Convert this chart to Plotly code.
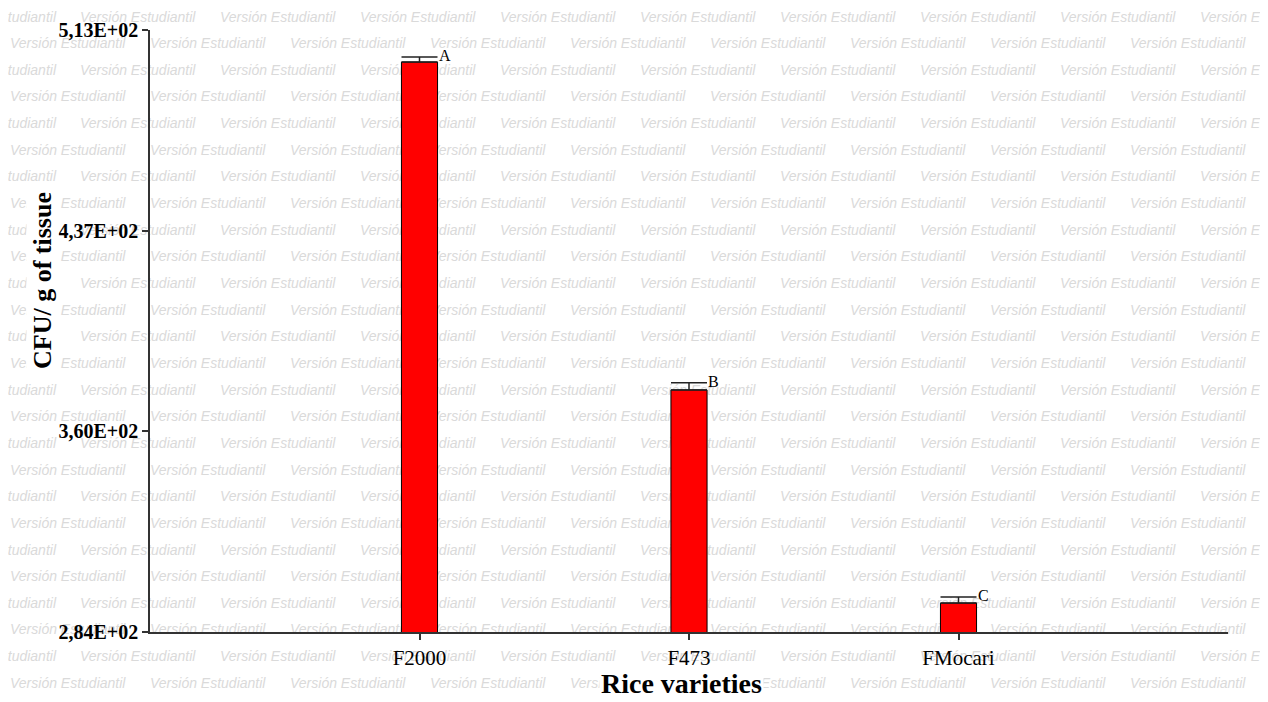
import plotly.graph_objects as go

# ---- data ----
varieties = ["F2000", "F473", "FMocari"]
cfu_means = [500.8, 376.1, 295.0]
cfu_errors = [1.9, 2.7, 2.3]
group_letters = ["A", "B", "C"]
y_tick_values = [284, 360.33, 436.67, 513]
y_tick_labels = ["2,84E+02", "3,60E+02", "4,37E+02", "5,13E+02"]
watermark_text = "Versión Estudiantil"

# page is 1268x702; the html body adds an 8px margin, so the figure is sized to fit
PAGE_W, PAGE_H, OFF = 1268, 702, 8
FW, FH = PAGE_W - OFF, PAGE_H - 2 * OFF


def fx(p):
    return (p - OFF) / FW


def fy(p):
    return (FH + OFF - p) / FH


# ---- watermark layout (background text grid) ----
WM_LEN = 116
right_x, right_y = [], []   # anchored at text start
left_x, left_y = [], []     # anchored at text end (for texts cut at the left edge)
row_step = 26.65
for i in range(26):
    yy = 18 + row_step * i
    if i % 2 == 1:
        starts = [10 + 140 * k for k in range(9)]
    else:
        starts = [-60 + 140 * k for k in range(10)]
    for sx in starts:
        if sx < OFF:
            left_x.append(sx + WM_LEN)
            left_y.append(yy)
        else:
            right_x.append(sx)
            right_y.append(yy)

wm_font = dict(family="Liberation Sans", size=14, color="#dadada", style="italic")

fig = go.Figure()

fig.add_trace(go.Scatter(
    x=right_x, y=right_y, mode="text",
    text=[watermark_text] * len(right_x),
    textposition="middle right", textfont=wm_font,
    hoverinfo="skip", showlegend=False, cliponaxis=False,
    xaxis="x", yaxis="y",
))
fig.add_trace(go.Scatter(
    x=left_x, y=left_y, mode="text",
    text=[watermark_text] * len(left_x),
    textposition="middle left", textfont=wm_font,
    hoverinfo="skip", showlegend=False, cliponaxis=False,
    xaxis="x", yaxis="y",
))

fig.add_trace(go.Bar(
    x=varieties, y=cfu_means,
    width=0.134,
    marker=dict(color="#ff0000", line=dict(color="#000000", width=1)),
    error_y=dict(type="data", array=cfu_errors, arrayminus=[0] * len(cfu_errors),
                 color="#222222", thickness=1.5, width=18),
    showlegend=False,
    xaxis="x2", yaxis="y2",
))

annotations = []
for v, m, e, lt in zip(varieties, cfu_means, cfu_errors, group_letters):
    annotations.append(dict(
        x=v, y=m + e, xref="x2", yref="y2", text=lt, showarrow=False,
        xanchor="left", yanchor="bottom", xshift=17, yshift=-9,
        font=dict(family="Liberation Serif", size=16, color="#000000"),
    ))

annotations.append(dict(
    x=fx(681), y=fy(683), xref="paper", yref="paper",
    text="<b>Rice varieties</b>", showarrow=False,
    xanchor="center", yanchor="middle", bgcolor="#ffffff",
    font=dict(family="Liberation Serif", size=28, color="#000000"),
))
annotations.append(dict(
    x=fx(42), y=fy(281), xref="paper", yref="paper",
    text="<b>CFU/ g of tissue</b>", showarrow=False, textangle=-90,
    xanchor="center", yanchor="middle", bgcolor="#ffffff",
    font=dict(family="Liberation Serif", size=26, color="#000000"),
))

fig.update_layout(
    template="none",
    width=FW, height=FH,
    margin=dict(l=0, r=0, t=0, b=0, pad=0),
    paper_bgcolor="#ffffff",
    plot_bgcolor="rgba(0,0,0,0)",
    showlegend=False,
    xaxis=dict(domain=[0, 1], range=[OFF, PAGE_W], visible=False, fixedrange=True, automargin=False),
    yaxis=dict(domain=[0, 1], range=[FH + OFF, OFF], visible=False, fixedrange=True, automargin=False),
    xaxis2=dict(
        domain=[fx(150), fx(1228)], anchor="y2", type="category",
        categoryorder="array", categoryarray=varieties,
        range=[-1, 3], automargin=False,
        showline=True, linecolor="#333333", linewidth=1.5,
        ticks="outside", ticklen=6, tickcolor="#333333", tickwidth=1.5,
        showgrid=False, zeroline=False,
        tickfont=dict(family="Liberation Serif", size=21, color="#000000"),
    ),
    yaxis2=dict(
        domain=[fy(632), fy(30)], anchor="x2",
        range=[284, 513], automargin=False,
        tickvals=y_tick_values,
        ticktext=["<b>" + t + "</b>" for t in y_tick_labels],
        showline=True, linecolor="#333333", linewidth=1.5,
        ticks="outside", ticklen=6, tickcolor="#333333", tickwidth=1.5,
        showgrid=False, zeroline=False,
        tickfont=dict(family="Liberation Serif", size=20, color="#000000"),
    ),
    annotations=annotations,
)

fig.write_html("out.html")
